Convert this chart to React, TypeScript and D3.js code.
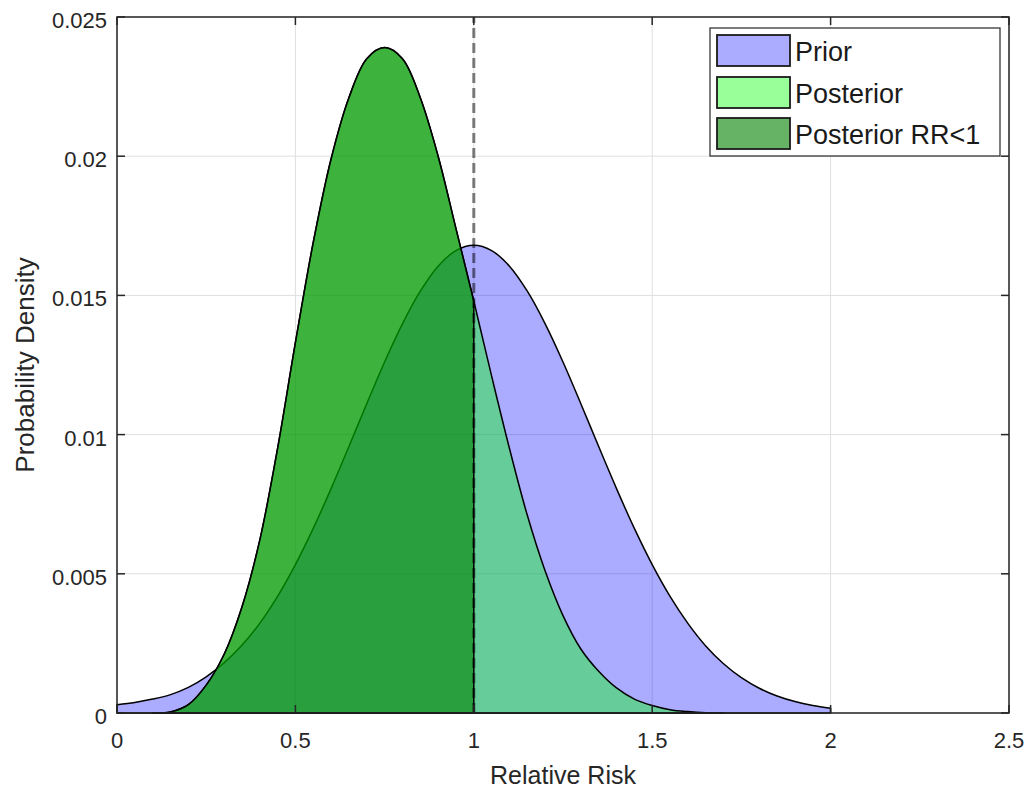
import React from 'react';
import * as d3 from 'd3';

// values
const priorX = [0, 0.05, 0.1, 0.15, 0.2, 0.25, 0.3, 0.35, 0.4, 0.45, 0.5, 0.55, 0.6, 0.65, 0.7, 0.75, 0.8, 0.85, 0.9, 0.95, 1,
  1.05, 1.1, 1.15, 1.2, 1.25, 1.3, 1.35, 1.4, 1.45, 1.5, 1.55, 1.6, 1.65, 1.7, 1.75, 1.8, 1.85, 1.9, 1.95, 2];
const priorY = [0.0003, 0.00038, 0.0005, 0.00066, 0.00092, 0.0013, 0.0018, 0.00243, 0.00322, 0.00419, 0.00533, 0.00663,
  0.00806, 0.00957, 0.01111, 0.01261, 0.01398, 0.01515, 0.01605, 0.01661, 0.0168, 0.01661, 0.01605, 0.01515, 0.01398,
  0.01261, 0.01111, 0.00957, 0.00806, 0.00663, 0.00533, 0.00419, 0.00322, 0.00241, 0.00177, 0.00127, 0.00089, 0.00061,
  0.00041, 0.00027, 0.00017];

const postX = [0.1, 0.15, 0.2, 0.25, 0.3, 0.35, 0.4, 0.45, 0.5, 0.55, 0.6, 0.65, 0.7, 0.75, 0.8, 0.85, 0.9, 0.95, 1,
  1.05, 1.1, 1.15, 1.2, 1.25, 1.3, 1.35, 1.4, 1.45, 1.5, 1.55, 1.6, 1.65, 1.7];
const postY = [0, 0.00004, 0.0003, 0.001, 0.0021, 0.0038, 0.0062, 0.0095, 0.0133, 0.0169, 0.0199, 0.0221, 0.0235, 0.0239,
  0.0235, 0.0221, 0.0200, 0.0174, 0.0148, 0.0121, 0.0095, 0.0071, 0.0051, 0.0035, 0.0023, 0.0015, 0.0009, 0.0005, 0.00027,
  0.00012, 0.00005, 0.00001, 0];

const xTicks = [0, 0.5, 1, 1.5, 2, 2.5];
const xTickLabels = ['0', '0.5', '1', '1.5', '2', '2.5'];
const yTicks = [0, 0.005, 0.01, 0.015, 0.02, 0.025];
const yTickLabels = ['0', '0.005', '0.01', '0.015', '0.02', '0.025'];
const threshold = 1;

const legendNames = ['Prior', 'Posterior', 'Posterior RR<1'];

const W = 1031, H = 788;
const left = 117, right = 1009, top = 17, bottom = 713;
const font = '"Liberation Sans", Arial, sans-serif';
const axisColor = '#262626';

export default function App() {
  const x = d3.scaleLinear().domain([0, 2.5]).range([left, right]);
  const y = d3.scaleLinear().domain([0, 0.025]).range([bottom, top]);

  const prior = priorX.map((v, i) => [v, priorY[i]]);
  const post = postX.map((v, i) => [v, postY[i]]);
  const postLow = post.filter(d => d[0] <= threshold);

  const area = d3.area<number[]>()
    .x(d => x(d[0]))
    .y0(y(0))
    .y1(d => Math.min(y(0), y(d[1])))
    .curve(d3.curveCatmullRom.alpha(0.5));

  const series = [
    { data: prior, fill: '#0000ff', op: 0.33 },
    { data: post, fill: '#00ff00', op: 0.4 },
    { data: postLow, fill: '#008000', op: 0.6 },
  ];

  const rowY = [51, 93, 134];

  return (
    <svg width={W} height={H} style={{ position: 'absolute', left: 0, top: 0, background: '#fff' }}>
      <rect x={0} y={0} width={W} height={H} fill="#fff" />
      {/* grid */}
      {xTicks.map(t => (
        <line key={'gx' + t} x1={x(t)} x2={x(t)} y1={top} y2={bottom} stroke="#dfdfdf" strokeWidth={1} />
      ))}
      {yTicks.map(t => (
        <line key={'gy' + t} x1={left} x2={right} y1={y(t)} y2={y(t)} stroke="#dfdfdf" strokeWidth={1} />
      ))}

      {series.map((s, i) => (
        <path key={i} d={area(s.data) || ''} fill={s.fill} fillOpacity={s.op}
          stroke="#000" strokeWidth={1.5} strokeLinejoin="round" />
      ))}

      {/* RR = 1 marker */}
      <line x1={x(threshold)} x2={x(threshold)} y1={y(0)} y2={y(0.025)}
        stroke="#000" strokeOpacity={0.5} strokeWidth={3} strokeDasharray="10,5" />

      {/* axes box and ticks */}
      <rect x={left} y={top} width={right - left} height={bottom - top} fill="none" stroke={axisColor} strokeWidth={1.5} />
      {xTicks.map(t => (
        <g key={'tx' + t}>
          <line x1={x(t)} x2={x(t)} y1={bottom} y2={bottom - 8} stroke={axisColor} strokeWidth={1.5} />
          <line x1={x(t)} x2={x(t)} y1={top} y2={top + 8} stroke={axisColor} strokeWidth={1.5} />
        </g>
      ))}
      {yTicks.map(t => (
        <g key={'ty' + t}>
          <line x1={left} x2={left + 8} y1={y(t)} y2={y(t)} stroke={axisColor} strokeWidth={1.5} />
          <line x1={right} x2={right - 8} y1={y(t)} y2={y(t)} stroke={axisColor} strokeWidth={1.5} />
        </g>
      ))}
      {xTicks.map((t, i) => (
        <text key={'lx' + t} x={x(t)} y={748} textAnchor="middle" fontFamily={font} fontSize={22} fill={axisColor}>
          {xTickLabels[i]}
        </text>
      ))}
      {yTicks.map((t, i) => (
        <text key={'ly' + t} x={107} y={y(t) + 11} textAnchor="end" fontFamily={font} fontSize={22} fill={axisColor}>
          {yTickLabels[i]}
        </text>
      ))}

      <text x={(left + right) / 2} y={784} textAnchor="middle" fontFamily={font} fontSize={25} fill={axisColor}>
        Relative Risk
      </text>
      <text transform={`translate(34,${(top + bottom) / 2}) rotate(-90)`} textAnchor="middle" fontFamily={font}
        fontSize={26} fill={axisColor}>
        Probability Density
      </text>

      {/* legend */}
      <rect x={710} y={28} width={290} height={128} fill="#fff" stroke={axisColor} strokeWidth={1.2} />
      {legendNames.map((name, i) => (
        <g key={name}>
          <rect x={717} y={rowY[i] - 16} width={73} height={31} fill="#fff" />
          <rect x={717} y={rowY[i] - 16} width={73} height={31} fill={series[i].fill} fillOpacity={series[i].op}
            stroke="#1a1a1a" strokeWidth={1.8} />
          <text x={795} y={rowY[i] + 10} fontFamily={font} fontSize={27} fill="#1a1a1a">{name}</text>
        </g>
      ))}
    </svg>
  );
}
